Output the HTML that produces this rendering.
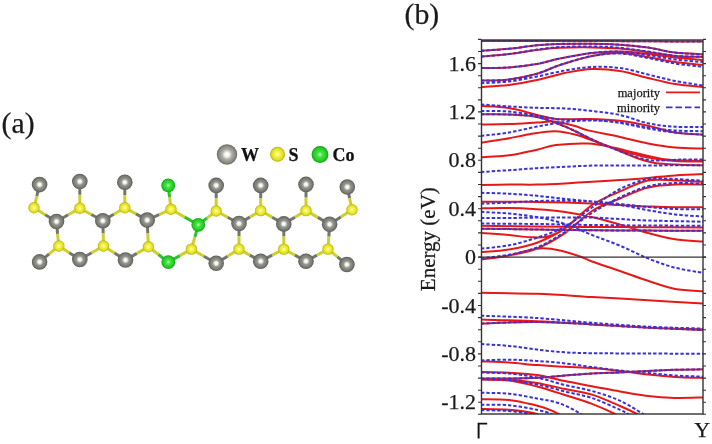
<!DOCTYPE html>
<html><head><meta charset="utf-8"><style>
html,body{margin:0;padding:0;background:#fff;}
svg{display:block;}
text{font-family:"Liberation Serif",serif;fill:#1a1a1a;stroke:#1a1a1a;stroke-width:0.25px;}
svg{will-change:transform;}
.tl{font-size:22px;}
.el{font-size:21px;}
.lg{font-size:12.5px;}
.ml{font-size:18px;font-weight:bold;fill:#111;}
.pl{font-size:29.7px;}
</style></head><body>
<svg width="712" height="444" viewBox="0 0 712 444">
<defs>
<clipPath id="pc"><rect x="481.5" y="40" width="221.5" height="374"/></clipPath>
<radialGradient id="gw" cx="0.5" cy="0.5" r="0.5"><stop offset="0" stop-color="#ffffff"/><stop offset="0.22" stop-color="#f6f6f0"/><stop offset="0.5" stop-color="#acaca4"/><stop offset="0.82" stop-color="#8a8a82"/><stop offset="1" stop-color="#686862"/></radialGradient>
<radialGradient id="gk" cx="0.5" cy="0.5" r="0.5"><stop offset="0" stop-color="#ffffff"/><stop offset="0.2" stop-color="#f2f2ee"/><stop offset="0.45" stop-color="#96968f"/><stop offset="0.78" stop-color="#7a7a74"/><stop offset="1" stop-color="#5c5c57"/></radialGradient>
<radialGradient id="gs" cx="0.5" cy="0.5" r="0.5"><stop offset="0" stop-color="#ffffc8"/><stop offset="0.3" stop-color="#f6f650"/><stop offset="0.75" stop-color="#e2de22"/><stop offset="1" stop-color="#b4b014"/></radialGradient>
<radialGradient id="gc" cx="0.5" cy="0.5" r="0.5"><stop offset="0" stop-color="#b8ffb8"/><stop offset="0.3" stop-color="#44e444"/><stop offset="0.75" stop-color="#26cc26"/><stop offset="1" stop-color="#169c16"/></radialGradient>
</defs>
<rect width="712" height="444" fill="#fff"/>
<text x="1.6" y="133.1" class="pl">(a)</text>
<text x="404.6" y="23.8" class="pl">(b)</text>
<g stroke-width="3" stroke-linecap="butt"><line x1="39.6" y1="184.6" x2="36.8" y2="196.2" stroke="#75756f"/><line x1="36.8" y1="196.2" x2="34.0" y2="207.8" stroke="#cfcf2a"/><line x1="34.0" y1="207.8" x2="45.2" y2="214.7" stroke="#cfcf2a"/><line x1="45.2" y1="214.7" x2="56.5" y2="221.5" stroke="#75756f"/><line x1="79.8" y1="181.5" x2="79.8" y2="194.8" stroke="#75756f"/><line x1="79.8" y1="194.8" x2="79.8" y2="208.2" stroke="#cfcf2a"/><line x1="79.8" y1="208.2" x2="68.2" y2="214.8" stroke="#cfcf2a"/><line x1="68.2" y1="214.8" x2="56.5" y2="221.5" stroke="#75756f"/><line x1="79.8" y1="208.2" x2="91.3" y2="214.5" stroke="#cfcf2a"/><line x1="91.3" y1="214.5" x2="102.8" y2="220.8" stroke="#75756f"/><line x1="124.8" y1="182.3" x2="124.8" y2="195.1" stroke="#75756f"/><line x1="124.8" y1="195.1" x2="124.8" y2="207.8" stroke="#cfcf2a"/><line x1="124.8" y1="207.8" x2="113.8" y2="214.3" stroke="#cfcf2a"/><line x1="113.8" y1="214.3" x2="102.8" y2="220.8" stroke="#75756f"/><line x1="124.8" y1="207.8" x2="136.0" y2="213.9" stroke="#cfcf2a"/><line x1="136.0" y1="213.9" x2="147.2" y2="220.1" stroke="#75756f"/><line x1="168.2" y1="185.4" x2="169.6" y2="197.4" stroke="#2cc42c"/><line x1="169.6" y1="197.4" x2="171.0" y2="209.3" stroke="#cfcf2a"/><line x1="171.0" y1="209.3" x2="159.1" y2="214.7" stroke="#cfcf2a"/><line x1="159.1" y1="214.7" x2="147.2" y2="220.1" stroke="#75756f"/><line x1="171.0" y1="209.3" x2="184.7" y2="217.1" stroke="#cfcf2a"/><line x1="184.7" y1="217.1" x2="198.3" y2="224.8" stroke="#2cc42c"/><line x1="198.3" y1="224.8" x2="207.2" y2="217.9" stroke="#2cc42c"/><line x1="207.2" y1="217.9" x2="216.2" y2="211.0" stroke="#cfcf2a"/><line x1="216.2" y1="185.4" x2="216.2" y2="198.2" stroke="#75756f"/><line x1="216.2" y1="198.2" x2="216.2" y2="211.0" stroke="#cfcf2a"/><line x1="216.2" y1="211.0" x2="227.6" y2="217.2" stroke="#cfcf2a"/><line x1="227.6" y1="217.2" x2="239.0" y2="223.5" stroke="#75756f"/><line x1="260.7" y1="185.4" x2="260.7" y2="198.0" stroke="#75756f"/><line x1="260.7" y1="198.0" x2="260.7" y2="210.6" stroke="#cfcf2a"/><line x1="260.7" y1="210.6" x2="249.8" y2="217.1" stroke="#cfcf2a"/><line x1="249.8" y1="217.1" x2="239.0" y2="223.5" stroke="#75756f"/><line x1="260.7" y1="210.6" x2="272.2" y2="217.2" stroke="#cfcf2a"/><line x1="272.2" y1="217.2" x2="283.8" y2="223.9" stroke="#75756f"/><line x1="306.0" y1="184.4" x2="306.0" y2="197.5" stroke="#75756f"/><line x1="306.0" y1="197.5" x2="306.0" y2="210.6" stroke="#cfcf2a"/><line x1="306.0" y1="210.6" x2="294.9" y2="217.2" stroke="#cfcf2a"/><line x1="294.9" y1="217.2" x2="283.8" y2="223.9" stroke="#75756f"/><line x1="306.0" y1="210.6" x2="317.8" y2="217.4" stroke="#cfcf2a"/><line x1="317.8" y1="217.4" x2="329.6" y2="224.3" stroke="#75756f"/><line x1="347.3" y1="187.0" x2="349.6" y2="198.3" stroke="#75756f"/><line x1="349.6" y1="198.3" x2="352.0" y2="209.7" stroke="#cfcf2a"/><line x1="352.0" y1="209.7" x2="340.8" y2="217.0" stroke="#cfcf2a"/><line x1="340.8" y1="217.0" x2="329.6" y2="224.3" stroke="#75756f"/><line x1="56.5" y1="221.5" x2="57.6" y2="233.8" stroke="#75756f"/><line x1="57.6" y1="233.8" x2="58.8" y2="246.0" stroke="#cfcf2a"/><line x1="102.8" y1="220.8" x2="103.2" y2="233.4" stroke="#75756f"/><line x1="103.2" y1="233.4" x2="103.5" y2="246.0" stroke="#cfcf2a"/><line x1="147.2" y1="220.1" x2="147.8" y2="233.4" stroke="#75756f"/><line x1="147.8" y1="233.4" x2="148.4" y2="246.8" stroke="#cfcf2a"/><line x1="198.3" y1="224.8" x2="194.9" y2="236.9" stroke="#2cc42c"/><line x1="194.9" y1="236.9" x2="191.4" y2="249.1" stroke="#cfcf2a"/><line x1="239.0" y1="223.5" x2="239.0" y2="236.3" stroke="#75756f"/><line x1="239.0" y1="236.3" x2="239.0" y2="249.1" stroke="#cfcf2a"/><line x1="283.8" y1="223.9" x2="283.8" y2="236.5" stroke="#75756f"/><line x1="283.8" y1="236.5" x2="283.8" y2="249.1" stroke="#cfcf2a"/><line x1="329.6" y1="224.3" x2="328.8" y2="236.7" stroke="#75756f"/><line x1="328.8" y1="236.7" x2="328.0" y2="249.1" stroke="#cfcf2a"/><line x1="39.6" y1="261.9" x2="49.2" y2="253.9" stroke="#75756f"/><line x1="49.2" y1="253.9" x2="58.8" y2="246.0" stroke="#cfcf2a"/><line x1="58.8" y1="246.0" x2="69.3" y2="252.8" stroke="#cfcf2a"/><line x1="69.3" y1="252.8" x2="79.8" y2="259.5" stroke="#75756f"/><line x1="79.8" y1="259.5" x2="91.7" y2="252.8" stroke="#75756f"/><line x1="91.7" y1="252.8" x2="103.5" y2="246.0" stroke="#cfcf2a"/><line x1="103.5" y1="246.0" x2="114.5" y2="253.0" stroke="#cfcf2a"/><line x1="114.5" y1="253.0" x2="125.5" y2="260.0" stroke="#75756f"/><line x1="125.5" y1="260.0" x2="136.9" y2="253.4" stroke="#75756f"/><line x1="136.9" y1="253.4" x2="148.4" y2="246.8" stroke="#cfcf2a"/><line x1="148.4" y1="246.8" x2="158.4" y2="254.5" stroke="#cfcf2a"/><line x1="158.4" y1="254.5" x2="168.3" y2="262.1" stroke="#2cc42c"/><line x1="168.3" y1="262.1" x2="179.9" y2="255.6" stroke="#2cc42c"/><line x1="179.9" y1="255.6" x2="191.4" y2="249.1" stroke="#cfcf2a"/><line x1="191.4" y1="249.1" x2="203.8" y2="256.2" stroke="#cfcf2a"/><line x1="203.8" y1="256.2" x2="216.2" y2="263.3" stroke="#75756f"/><line x1="216.2" y1="263.3" x2="227.6" y2="256.2" stroke="#75756f"/><line x1="227.6" y1="256.2" x2="239.0" y2="249.1" stroke="#cfcf2a"/><line x1="239.0" y1="249.1" x2="249.8" y2="255.1" stroke="#cfcf2a"/><line x1="249.8" y1="255.1" x2="260.7" y2="261.2" stroke="#75756f"/><line x1="260.7" y1="261.2" x2="272.2" y2="255.1" stroke="#75756f"/><line x1="272.2" y1="255.1" x2="283.8" y2="249.1" stroke="#cfcf2a"/><line x1="283.8" y1="249.1" x2="294.9" y2="255.1" stroke="#cfcf2a"/><line x1="294.9" y1="255.1" x2="306.0" y2="261.2" stroke="#75756f"/><line x1="306.0" y1="261.2" x2="317.0" y2="255.1" stroke="#75756f"/><line x1="317.0" y1="255.1" x2="328.0" y2="249.1" stroke="#cfcf2a"/><line x1="328.0" y1="249.1" x2="337.4" y2="256.8" stroke="#cfcf2a"/><line x1="337.4" y1="256.8" x2="346.9" y2="264.5" stroke="#75756f"/></g><circle cx="39.6" cy="184.6" r="7.8" fill="url(#gk)"/><circle cx="79.8" cy="181.5" r="7.8" fill="url(#gk)"/><circle cx="124.8" cy="182.3" r="7.8" fill="url(#gk)"/><circle cx="168.2" cy="185.4" r="6.9" fill="url(#gc)"/><circle cx="216.2" cy="185.4" r="7.8" fill="url(#gk)"/><circle cx="260.7" cy="185.4" r="7.8" fill="url(#gk)"/><circle cx="306.0" cy="184.4" r="7.8" fill="url(#gk)"/><circle cx="347.3" cy="187.0" r="7.8" fill="url(#gk)"/><circle cx="34.0" cy="207.8" r="5.7" fill="url(#gs)"/><circle cx="79.8" cy="208.2" r="5.7" fill="url(#gs)"/><circle cx="124.8" cy="207.8" r="5.7" fill="url(#gs)"/><circle cx="171.0" cy="209.3" r="5.7" fill="url(#gs)"/><circle cx="216.2" cy="211.0" r="5.7" fill="url(#gs)"/><circle cx="260.7" cy="210.6" r="5.7" fill="url(#gs)"/><circle cx="306.0" cy="210.6" r="5.7" fill="url(#gs)"/><circle cx="352.0" cy="209.7" r="5.7" fill="url(#gs)"/><circle cx="56.5" cy="221.5" r="7.8" fill="url(#gk)"/><circle cx="102.8" cy="220.8" r="7.8" fill="url(#gk)"/><circle cx="147.2" cy="220.1" r="7.8" fill="url(#gk)"/><circle cx="198.3" cy="224.8" r="6.9" fill="url(#gc)"/><circle cx="239.0" cy="223.5" r="7.8" fill="url(#gk)"/><circle cx="283.8" cy="223.9" r="7.8" fill="url(#gk)"/><circle cx="329.6" cy="224.3" r="7.8" fill="url(#gk)"/><circle cx="58.8" cy="246.0" r="5.7" fill="url(#gs)"/><circle cx="103.5" cy="246.0" r="5.7" fill="url(#gs)"/><circle cx="148.4" cy="246.8" r="5.7" fill="url(#gs)"/><circle cx="191.4" cy="249.1" r="5.7" fill="url(#gs)"/><circle cx="239.0" cy="249.1" r="5.7" fill="url(#gs)"/><circle cx="283.8" cy="249.1" r="5.7" fill="url(#gs)"/><circle cx="328.0" cy="249.1" r="5.7" fill="url(#gs)"/><circle cx="39.6" cy="261.9" r="7.8" fill="url(#gk)"/><circle cx="79.8" cy="259.5" r="7.8" fill="url(#gk)"/><circle cx="125.5" cy="260.0" r="7.8" fill="url(#gk)"/><circle cx="168.3" cy="262.1" r="6.9" fill="url(#gc)"/><circle cx="216.2" cy="263.3" r="7.8" fill="url(#gk)"/><circle cx="260.7" cy="261.2" r="7.8" fill="url(#gk)"/><circle cx="306.0" cy="261.2" r="7.8" fill="url(#gk)"/><circle cx="346.9" cy="264.5" r="7.8" fill="url(#gk)"/><circle cx="227" cy="154.5" r="10.2" fill="url(#gw)"/><circle cx="277.5" cy="154.2" r="7.5" fill="url(#gs)"/><circle cx="320" cy="154.5" r="8.4" fill="url(#gc)"/><text x="241" y="160.5" class="ml">W</text><text x="288.5" y="160.5" class="ml">S</text><text x="332.5" y="160.5" class="ml">Co</text>
<g clip-path="url(#pc)" fill="none"><path d="M481.0 40.9 C490.8 40.9 520.2 40.9 540.0 40.9 C559.8 40.9 581.7 40.9 600.0 41.0 C618.3 41.1 632.8 41.2 650.0 41.3 C667.2 41.4 694.2 41.5 703.0 41.6 M481.0 50.7 C485.7 50.4 499.7 49.7 509.0 48.8 C518.3 47.9 528.5 46.0 537.0 45.2 C545.5 44.4 550.8 44.1 560.0 43.9 C569.2 43.7 582.0 43.6 592.0 43.8 C602.0 43.9 610.7 44.2 620.0 44.8 C629.3 45.4 638.8 46.3 648.0 47.6 C657.2 48.9 665.8 51.5 675.0 52.6 C684.2 53.7 698.3 54.0 703.0 54.3 M481.0 56.6 C485.7 56.2 499.7 55.2 509.0 54.1 C518.3 53.0 528.5 51.0 537.0 50.0 C545.5 49.0 550.8 48.2 560.0 47.8 C569.2 47.4 582.0 47.3 592.0 47.4 C602.0 47.5 610.7 47.6 620.0 48.4 C629.3 49.2 638.8 50.7 648.0 52.0 C657.2 53.3 665.8 55.2 675.0 56.0 C684.2 56.8 698.3 56.8 703.0 57.0 M481.0 68.1 C485.7 68.0 499.7 68.1 509.0 67.4 C518.3 66.7 528.5 65.4 537.0 63.9 C545.5 62.4 550.8 60.3 560.0 58.5 C569.2 56.7 582.0 54.2 592.0 53.0 C602.0 51.8 610.7 51.3 620.0 51.5 C629.3 51.7 638.8 53.0 648.0 54.0 C657.2 55.0 665.8 56.5 675.0 57.5 C684.2 58.5 698.3 59.6 703.0 60.0 M481.0 80.6 C485.7 80.4 499.7 80.7 509.0 79.5 C518.3 78.3 528.5 76.1 537.0 73.7 C545.5 71.3 550.8 68.0 560.0 65.0 C569.2 62.0 582.0 58.0 592.0 56.0 C602.0 54.0 610.7 52.8 620.0 53.0 C629.3 53.2 638.8 55.5 648.0 57.0 C657.2 58.5 665.8 60.7 675.0 62.0 C684.2 63.3 698.3 64.5 703.0 65.0 M481.0 86.9 C485.7 86.6 499.7 86.2 509.0 85.0 C518.3 83.8 527.7 82.0 537.0 80.0 C546.3 78.0 555.8 74.8 565.0 73.0 C574.2 71.2 582.8 69.3 592.0 69.0 C601.2 68.7 610.7 69.5 620.0 71.0 C629.3 72.5 638.8 75.8 648.0 78.0 C657.2 80.2 665.8 82.5 675.0 84.0 C684.2 85.5 698.3 86.4 703.0 86.9 M481.0 106.1 C485.7 106.4 499.7 106.6 509.0 108.1 C518.3 109.6 529.2 113.1 537.0 114.9 C544.8 116.7 547.5 118.3 556.0 119.0 C564.5 119.7 577.3 118.8 588.0 119.1 C598.7 119.4 610.0 119.7 620.0 120.8 C630.0 121.9 638.8 123.8 648.0 125.8 C657.2 127.8 665.8 131.1 675.0 132.6 C684.2 134.1 698.3 134.3 703.0 134.7 M481.0 114.3 C485.7 114.3 499.7 114.0 509.0 114.5 C518.3 115.0 527.7 115.0 537.0 117.0 C546.3 119.0 555.8 122.8 565.0 126.5 C574.2 130.2 584.0 135.8 592.0 139.5 C600.0 143.2 605.3 145.2 613.0 148.4 C620.7 151.6 631.0 156.1 638.0 158.5 C645.0 160.9 648.0 161.9 655.0 163.0 C662.0 164.1 672.0 164.4 680.0 164.8 C688.0 165.2 699.2 165.2 703.0 165.3 M481.0 124.6 C485.7 124.5 499.7 124.3 509.0 124.0 C518.3 123.7 529.5 122.9 537.0 122.5 C544.5 122.1 547.7 121.0 554.0 121.6 C560.3 122.2 569.3 124.5 575.0 126.0 C580.7 127.5 580.5 128.6 588.0 130.4 C595.5 132.2 610.0 134.8 620.0 137.0 C630.0 139.2 638.8 141.8 648.0 143.5 C657.2 145.2 665.8 146.7 675.0 147.5 C684.2 148.3 698.3 148.4 703.0 148.6 M481.0 142.7 C485.0 142.1 496.5 140.6 505.0 139.1 C513.5 137.6 523.7 135.0 532.0 133.7 C540.3 132.4 547.7 131.0 555.0 131.2 C562.3 131.4 568.8 132.9 576.0 134.8 C583.2 136.7 590.7 140.0 598.0 142.5 C605.3 145.0 611.7 147.5 620.0 150.0 C628.3 152.5 638.8 155.7 648.0 157.5 C657.2 159.3 665.8 160.3 675.0 161.0 C684.2 161.7 698.3 161.4 703.0 161.5 M481.0 157.3 C485.7 157.0 499.7 156.6 509.0 155.3 C518.3 154.0 529.2 151.4 537.0 149.7 C544.8 148.0 547.5 146.1 556.0 145.1 C564.5 144.1 578.5 143.2 588.0 143.6 C597.5 144.0 604.7 145.9 613.0 147.6 C621.3 149.2 629.0 151.5 638.0 153.5 C647.0 155.5 656.2 158.2 667.0 159.4 C677.8 160.7 697.0 160.7 703.0 161.0 M481.0 184.9 C485.7 184.8 499.7 184.7 509.0 184.6 C518.3 184.5 527.7 184.8 537.0 184.6 C546.3 184.4 555.8 183.9 565.0 183.4 C574.2 182.9 582.8 182.2 592.0 181.7 C601.2 181.1 610.7 180.7 620.0 180.1 C629.3 179.5 638.8 178.7 648.0 177.9 C657.2 177.1 665.8 176.1 675.0 175.4 C684.2 174.8 698.3 174.2 703.0 174.0 M481.0 201.8 C485.7 201.8 499.7 201.8 509.0 201.8 C518.3 201.8 527.7 201.9 537.0 202.0 C546.3 202.1 555.8 202.2 565.0 202.4 C574.2 202.7 582.8 203.1 592.0 203.5 C601.2 203.9 610.7 204.6 620.0 205.1 C629.3 205.6 638.8 206.2 648.0 206.5 C657.2 206.8 665.8 207.1 675.0 207.2 C684.2 207.3 698.3 207.2 703.0 207.2 M481.0 208.4 C485.7 208.3 499.7 207.9 509.0 208.1 C518.3 208.2 527.7 208.7 537.0 209.3 C546.3 209.9 555.8 210.6 565.0 211.9 C574.2 213.2 582.8 214.9 592.0 217.0 C601.2 219.1 610.7 221.9 620.0 224.6 C629.3 227.3 638.8 230.6 648.0 233.0 C657.2 235.4 665.8 237.9 675.0 239.3 C684.2 240.7 698.3 241.1 703.0 241.5 M481.0 225.7 C490.3 225.8 518.5 226.3 537.0 226.5 C555.5 226.7 573.5 226.9 592.0 227.0 C610.5 227.1 629.5 227.1 648.0 227.2 C666.5 227.3 693.8 227.4 703.0 227.4 M481.0 228.7 C490.3 228.8 518.5 229.2 537.0 229.5 C555.5 229.8 573.5 230.1 592.0 230.3 C610.5 230.5 629.5 230.5 648.0 230.6 C666.5 230.7 693.8 230.8 703.0 230.8 M481.0 233.1 C485.7 233.4 500.8 234.4 509.0 235.1 C517.2 235.8 523.5 237.0 530.0 237.2 C536.5 237.4 542.2 238.0 548.0 236.5 C553.8 235.0 557.7 233.7 565.0 228.4 C572.3 223.2 582.8 211.2 592.0 205.0 C601.2 198.8 610.7 195.5 620.0 191.4 C629.3 187.3 638.8 182.2 648.0 180.4 C657.2 178.6 665.8 180.2 675.0 180.4 C684.2 180.6 698.3 181.6 703.0 181.8 M481.0 252.0 C485.7 251.6 499.7 251.1 509.0 249.5 C518.3 247.9 527.7 246.2 537.0 242.7 C546.3 239.2 555.8 234.7 565.0 228.4 C574.2 222.1 582.8 211.2 592.0 205.0 C601.2 198.8 610.7 195.5 620.0 191.4 C629.3 187.3 638.8 182.2 648.0 180.4 C657.2 178.6 665.8 180.2 675.0 180.4 C684.2 180.6 698.3 181.6 703.0 181.8 M481.0 259.6 C485.7 258.9 499.7 257.4 509.0 255.5 C518.3 253.7 527.7 252.2 537.0 248.5 C546.3 244.8 555.8 239.4 565.0 233.2 C574.2 226.9 582.8 216.8 592.0 211.0 C601.2 205.2 610.7 202.4 620.0 198.5 C629.3 194.6 638.8 189.8 648.0 187.5 C657.2 185.2 665.8 185.0 675.0 184.5 C684.2 184.0 698.3 184.6 703.0 184.6 M481.0 259.5 C485.7 258.8 501.2 257.0 509.0 255.5 C516.8 254.0 522.3 251.7 528.0 250.5 C533.7 249.3 537.7 248.3 543.0 248.3 C548.3 248.3 553.8 249.1 560.0 250.5 C566.2 251.9 574.7 254.7 580.0 256.5 C585.3 258.3 585.3 259.1 592.0 261.5 C598.7 263.9 610.7 267.8 620.0 271.0 C629.3 274.2 638.8 277.8 648.0 280.8 C657.2 283.8 665.8 287.2 675.0 288.9 C684.2 290.6 698.3 290.8 703.0 291.2 M481.0 292.8 C490.3 293.0 518.5 293.1 537.0 293.8 C555.5 294.5 573.5 295.9 592.0 297.0 C610.5 298.1 629.5 299.1 648.0 300.2 C666.5 301.3 693.8 302.9 703.0 303.4 M481.0 319.6 C490.3 319.9 518.5 320.4 537.0 321.2 C555.5 322.0 573.5 323.3 592.0 324.4 C610.5 325.5 629.5 326.9 648.0 327.7 C666.5 328.5 693.8 329.0 703.0 329.3 M481.0 323.5 C490.3 323.2 518.5 321.8 537.0 321.9 C555.5 322.0 573.5 323.4 592.0 324.4 C610.5 325.4 629.5 326.8 648.0 327.7 C666.5 328.6 693.8 329.6 703.0 330.0 M481.0 361.4 C485.7 361.6 499.7 362.0 509.0 362.6 C518.3 363.2 527.7 364.4 537.0 365.1 C546.3 365.8 555.8 366.3 565.0 366.8 C574.2 367.3 582.8 367.4 592.0 368.1 C601.2 368.8 610.7 369.9 620.0 371.0 C629.3 372.1 638.8 373.5 648.0 374.5 C657.2 375.5 665.8 376.4 675.0 377.0 C684.2 377.6 698.3 377.8 703.0 377.9 M481.0 378.6 C485.7 378.6 499.7 378.6 509.0 378.5 C518.3 378.4 527.7 378.3 537.0 377.8 C546.3 377.3 555.8 376.2 565.0 375.5 C574.2 374.8 582.8 374.0 592.0 373.5 C601.2 373.0 610.7 372.8 620.0 372.4 C629.3 372.0 638.8 371.4 648.0 371.0 C657.2 370.6 665.8 370.1 675.0 369.8 C684.2 369.5 698.3 369.4 703.0 369.3 M481.0 372.0 C485.7 372.1 499.7 372.3 509.0 372.8 C518.3 373.3 527.7 373.6 537.0 375.0 C546.3 376.4 555.8 379.1 565.0 381.0 C574.2 382.9 582.8 384.4 592.0 386.2 C601.2 387.9 610.7 389.9 620.0 391.5 C629.3 393.1 638.8 395.0 648.0 396.1 C657.2 397.2 665.8 397.7 675.0 397.9 C684.2 398.1 698.3 397.5 703.0 397.4 M481.0 379.0 C485.7 379.1 499.7 378.8 509.0 379.5 C518.3 380.2 527.7 381.4 537.0 383.0 C546.3 384.6 555.8 387.1 565.0 389.0 C574.2 390.9 582.8 391.8 592.0 394.6 C601.2 397.4 612.5 402.8 620.0 406.0 C627.5 409.2 633.3 412.0 637.0 414.0 C640.7 416.0 641.2 417.3 642.0 418.0 M481.0 379.6 C485.7 379.8 499.7 379.4 509.0 380.5 C518.3 381.6 527.7 384.1 537.0 386.5 C546.3 388.9 555.8 392.1 565.0 395.0 C574.2 397.9 583.7 400.7 592.0 403.9 C600.3 407.1 610.3 411.6 615.0 414.0 C619.7 416.4 619.2 417.3 620.0 418.0 M481.0 399.2 C485.7 399.3 501.0 399.2 509.0 400.0 C517.0 400.8 523.0 402.5 529.0 403.8 C535.0 405.1 539.8 406.2 545.0 408.0 C550.2 409.8 556.7 412.9 560.0 414.6 C563.3 416.3 564.2 417.4 565.0 418.0 M481.0 408.9 C485.7 409.0 499.8 409.0 509.0 409.8 C518.2 410.6 530.8 412.4 536.0 413.8 C541.2 415.2 539.3 417.3 540.0 418.0" stroke="#e61919" stroke-width="2"/><path d="M481.0 40.9 C490.8 40.9 520.2 40.9 540.0 40.9 C559.8 40.9 581.7 40.9 600.0 41.0 C618.3 41.1 632.8 41.2 650.0 41.3 C667.2 41.4 694.2 41.5 703.0 41.6 M481.0 50.7 C485.7 50.4 499.7 49.7 509.0 48.8 C518.3 47.9 528.5 46.0 537.0 45.2 C545.5 44.4 550.8 44.1 560.0 43.9 C569.2 43.7 582.0 43.6 592.0 43.8 C602.0 43.9 610.7 44.2 620.0 44.8 C629.3 45.4 638.8 46.3 648.0 47.6 C657.2 48.9 665.8 51.5 675.0 52.6 C684.2 53.7 698.3 54.0 703.0 54.3 M481.0 56.6 C485.7 56.2 499.7 55.3 509.0 54.1 C518.3 52.9 528.5 50.8 537.0 49.6 C545.5 48.4 550.8 47.5 560.0 47.0 C569.2 46.5 582.0 46.4 592.0 46.5 C602.0 46.6 610.7 46.9 620.0 47.8 C629.3 48.6 638.8 50.3 648.0 51.6 C657.2 52.9 665.8 54.9 675.0 55.8 C684.2 56.7 698.3 56.6 703.0 56.8 M481.0 68.1 C485.7 68.0 499.7 68.1 509.0 67.4 C518.3 66.7 528.5 65.4 537.0 63.9 C545.5 62.4 550.8 60.3 560.0 58.5 C569.2 56.7 582.0 54.2 592.0 53.0 C602.0 51.8 610.7 51.2 620.0 51.5 C629.3 51.8 638.8 53.7 648.0 55.0 C657.2 56.3 665.8 58.3 675.0 59.5 C684.2 60.7 698.3 61.6 703.0 62.0 M481.0 80.6 C485.7 80.4 499.7 80.7 509.0 79.5 C518.3 78.3 528.5 76.1 537.0 73.7 C545.5 71.3 550.8 68.0 560.0 65.0 C569.2 62.0 582.0 57.9 592.0 56.0 C602.0 54.1 610.7 53.2 620.0 53.5 C629.3 53.8 638.8 56.3 648.0 58.0 C657.2 59.7 665.8 62.0 675.0 63.5 C684.2 65.0 698.3 66.2 703.0 66.8 M481.0 83.2 C485.7 82.9 499.7 82.6 509.0 81.5 C518.3 80.4 527.7 78.3 537.0 76.5 C546.3 74.7 555.8 72.1 565.0 70.5 C574.2 68.9 582.8 67.4 592.0 67.0 C601.2 66.6 610.7 66.8 620.0 68.0 C629.3 69.2 638.8 72.3 648.0 74.5 C657.2 76.7 665.8 79.2 675.0 81.0 C684.2 82.8 698.3 84.8 703.0 85.5 M481.0 104.4 C485.7 104.7 499.7 105.8 509.0 106.4 C518.3 107.0 527.7 107.5 537.0 107.8 C546.3 108.1 555.8 108.0 565.0 108.5 C574.2 109.0 582.8 109.9 592.0 111.0 C601.2 112.1 610.7 113.0 620.0 115.0 C629.3 117.0 638.8 121.3 648.0 123.3 C657.2 125.2 665.8 126.1 675.0 126.7 C684.2 127.3 698.3 127.0 703.0 127.0 M481.0 111.1 C485.7 111.2 499.7 110.7 509.0 111.5 C518.3 112.3 528.5 114.4 537.0 115.7 C545.5 117.0 550.8 118.8 560.0 119.5 C569.2 120.2 582.0 119.4 592.0 120.0 C602.0 120.6 610.7 121.6 620.0 123.0 C629.3 124.4 638.8 126.9 648.0 128.5 C657.2 130.1 665.8 131.5 675.0 132.5 C684.2 133.5 698.3 134.3 703.0 134.7 M481.0 114.3 C485.7 114.3 499.7 114.0 509.0 114.5 C518.3 115.0 527.7 115.0 537.0 117.0 C546.3 119.0 555.8 122.8 565.0 126.5 C574.2 130.2 584.0 135.8 592.0 139.5 C600.0 143.2 605.3 145.4 613.0 148.4 C620.7 151.4 631.0 155.5 638.0 157.5 C645.0 159.5 648.0 160.2 655.0 160.5 C662.0 160.8 672.0 159.8 680.0 159.6 C688.0 159.4 699.2 159.4 703.0 159.4 M481.0 135.9 C485.7 135.3 499.7 134.1 509.0 132.5 C518.3 130.9 527.7 128.3 537.0 126.6 C546.3 124.8 555.8 123.0 565.0 122.0 C574.2 121.0 582.8 120.4 592.0 120.5 C601.2 120.6 610.7 121.2 620.0 122.4 C629.3 123.6 638.8 126.2 648.0 127.5 C657.2 128.8 665.8 129.9 675.0 130.5 C684.2 131.1 698.3 131.1 703.0 131.2 M481.0 172.0 C485.7 171.7 499.7 170.8 509.0 170.2 C518.3 169.6 527.7 168.8 537.0 168.2 C546.3 167.6 555.8 167.2 565.0 166.8 C574.2 166.4 582.8 165.8 592.0 165.6 C601.2 165.4 610.7 165.5 620.0 165.5 C629.3 165.5 638.8 165.5 648.0 165.5 C657.2 165.5 665.8 165.3 675.0 165.3 C684.2 165.3 698.3 165.3 703.0 165.3 M481.0 192.8 C485.7 193.0 499.7 193.2 509.0 193.7 C518.3 194.2 527.7 194.9 537.0 195.8 C546.3 196.7 555.8 198.0 565.0 198.9 C574.2 199.8 582.8 200.5 592.0 201.5 C601.2 202.5 610.7 203.6 620.0 205.0 C629.3 206.4 638.8 208.6 648.0 210.2 C657.2 211.8 665.8 213.3 675.0 214.4 C684.2 215.5 698.3 216.2 703.0 216.6 M481.0 203.7 C485.7 203.5 499.7 203.1 509.0 202.7 C518.3 202.2 527.7 201.3 537.0 201.0 C546.3 200.7 555.8 200.7 565.0 200.8 C574.2 200.9 582.8 201.0 592.0 201.5 C601.2 202.0 610.7 203.1 620.0 204.0 C629.3 204.9 638.8 206.2 648.0 207.0 C657.2 207.8 665.8 208.6 675.0 209.0 C684.2 209.4 698.3 209.3 703.0 209.4 M481.0 211.9 C485.7 212.2 499.7 212.7 509.0 213.6 C518.3 214.5 527.7 215.4 537.0 217.1 C546.3 218.8 555.8 221.0 565.0 224.0 C574.2 227.0 582.8 231.4 592.0 235.0 C601.2 238.6 610.7 241.8 620.0 245.7 C629.3 249.6 638.8 254.7 648.0 258.4 C657.2 262.1 665.8 265.3 675.0 267.7 C684.2 270.1 698.3 271.9 703.0 272.8 M481.0 218.0 C485.7 218.0 499.7 218.1 509.0 218.0 C518.3 217.9 527.7 217.7 537.0 217.6 C546.3 217.5 555.8 217.6 565.0 217.6 C574.2 217.6 582.8 217.4 592.0 217.6 C601.2 217.8 610.7 218.5 620.0 219.0 C629.3 219.5 634.2 220.1 648.0 220.5 C661.8 220.9 693.8 221.5 703.0 221.7 M481.0 223.5 C490.3 223.6 518.5 223.8 537.0 224.0 C555.5 224.2 573.5 224.8 592.0 225.0 C610.5 225.2 629.5 225.4 648.0 225.5 C666.5 225.6 693.8 225.8 703.0 225.8 M481.0 228.7 C490.3 228.8 518.5 229.2 537.0 229.5 C555.5 229.8 573.5 230.1 592.0 230.3 C610.5 230.5 629.5 230.5 648.0 230.6 C666.5 230.7 693.8 230.8 703.0 230.8 M481.0 248.7 C485.7 248.1 499.7 247.1 509.0 245.3 C518.3 243.5 527.7 240.8 537.0 237.7 C546.3 234.6 555.8 231.7 565.0 226.7 C574.2 221.7 582.8 213.8 592.0 207.5 C601.2 201.2 610.7 193.7 620.0 189.0 C629.3 184.3 638.8 180.8 648.0 179.1 C657.2 177.4 665.8 178.8 675.0 179.1 C684.2 179.4 698.3 180.5 703.0 180.8 M481.0 258.3 C485.7 257.7 499.7 256.5 509.0 254.7 C518.3 252.9 527.7 251.3 537.0 247.5 C546.3 243.7 555.8 237.8 565.0 232.0 C574.2 226.2 582.8 218.8 592.0 213.0 C601.2 207.2 610.7 201.8 620.0 197.3 C629.3 192.9 638.8 188.7 648.0 186.3 C657.2 183.9 665.8 183.4 675.0 183.0 C684.2 182.6 698.3 183.7 703.0 183.8 M481.0 315.7 C490.3 316.1 518.5 316.8 537.0 318.0 C555.5 319.2 573.5 321.4 592.0 322.8 C610.5 324.2 629.5 325.7 648.0 326.7 C666.5 327.7 693.8 328.3 703.0 328.6 M481.0 323.5 C490.3 323.2 518.5 321.8 537.0 321.9 C555.5 322.0 573.5 323.4 592.0 324.4 C610.5 325.4 629.5 326.8 648.0 327.7 C666.5 328.6 693.8 329.6 703.0 330.0 M481.0 344.1 C485.7 344.4 499.7 345.0 509.0 345.9 C518.3 346.8 527.7 348.5 537.0 349.6 C546.3 350.7 555.8 351.7 565.0 352.3 C574.2 352.9 578.2 353.0 592.0 353.2 C605.8 353.4 629.5 353.4 648.0 353.5 C666.5 353.6 693.8 353.8 703.0 353.8 M481.0 360.4 C485.7 360.3 499.7 359.6 509.0 359.7 C518.3 359.8 527.7 360.3 537.0 360.9 C546.3 361.5 555.8 362.4 565.0 363.4 C574.2 364.4 582.8 365.9 592.0 367.1 C601.2 368.3 610.7 369.5 620.0 370.5 C629.3 371.5 638.8 372.2 648.0 373.0 C657.2 373.8 665.8 374.9 675.0 375.5 C684.2 376.1 698.3 376.4 703.0 376.6 M481.0 378.6 C485.7 378.6 499.7 378.6 509.0 378.5 C518.3 378.4 527.7 378.3 537.0 377.8 C546.3 377.3 555.8 376.2 565.0 375.5 C574.2 374.8 582.8 374.0 592.0 373.5 C601.2 373.0 610.7 372.8 620.0 372.4 C629.3 372.0 638.8 371.4 648.0 371.0 C657.2 370.6 665.8 370.1 675.0 369.8 C684.2 369.5 698.3 369.4 703.0 369.3 M481.0 372.5 C485.7 372.7 499.7 372.7 509.0 373.5 C518.3 374.3 527.7 375.6 537.0 377.5 C546.3 379.4 555.8 382.8 565.0 385.0 C574.2 387.2 582.8 388.4 592.0 391.0 C601.2 393.6 611.5 396.9 620.0 400.7 C628.5 404.5 638.0 411.1 643.0 414.0 C648.0 416.9 648.8 417.3 650.0 418.0 M481.0 379.3 C485.7 379.4 499.7 379.1 509.0 380.0 C518.3 380.9 527.7 382.6 537.0 384.5 C546.3 386.4 555.8 389.2 565.0 391.5 C574.2 393.8 582.8 394.9 592.0 398.0 C601.2 401.1 614.0 407.1 620.0 409.8 C626.0 412.5 625.8 412.6 628.0 414.0 C630.2 415.4 632.2 417.3 633.0 418.0 M481.0 392.8 C485.7 392.9 499.7 392.8 509.0 393.7 C518.3 394.6 528.5 396.9 537.0 398.5 C545.5 400.1 552.8 401.0 560.0 403.5 C567.2 406.0 575.8 411.0 580.0 413.4 C584.2 415.8 584.2 417.2 585.0 418.0 M481.0 404.7 C485.7 404.8 499.7 404.3 509.0 405.2 C518.3 406.1 530.0 408.4 537.0 409.8 C544.0 411.2 547.8 412.4 551.0 413.8 C554.2 415.2 555.2 417.3 556.0 418.0 M481.0 410.1 C485.7 410.2 500.8 410.4 509.0 411.0 C517.2 411.6 525.7 412.8 530.0 414.0 C534.3 415.2 534.2 417.3 535.0 418.0" stroke="#3832d8" stroke-width="2" stroke-dasharray="3.4 2.0"/></g>
<line x1="478.5" y1="257.1" x2="706.0" y2="257.1" stroke="#333" stroke-width="1.1"/><path d="M478.0 414.3H481.5 M703.0 414.3H706.0 M478.0 402.3H481.5 M703.0 402.3H706.0 M478.0 390.2H481.5 M703.0 390.2H706.0 M478.0 378.1H481.5 M703.0 378.1H706.0 M478.0 366.0H481.5 M703.0 366.0H706.0 M478.0 353.9H481.5 M703.0 353.9H706.0 M478.0 341.8H481.5 M703.0 341.8H706.0 M478.0 329.7H481.5 M703.0 329.7H706.0 M478.0 317.6H481.5 M703.0 317.6H706.0 M478.0 305.5H481.5 M703.0 305.5H706.0 M478.0 293.4H481.5 M703.0 293.4H706.0 M478.0 281.3H481.5 M703.0 281.3H706.0 M478.0 269.2H481.5 M703.0 269.2H706.0 M478.0 257.1H481.5 M703.0 257.1H706.0 M478.0 245.0H481.5 M703.0 245.0H706.0 M478.0 232.9H481.5 M703.0 232.9H706.0 M478.0 220.8H481.5 M703.0 220.8H706.0 M478.0 208.7H481.5 M703.0 208.7H706.0 M478.0 196.6H481.5 M703.0 196.6H706.0 M478.0 184.5H481.5 M703.0 184.5H706.0 M478.0 172.4H481.5 M703.0 172.4H706.0 M478.0 160.3H481.5 M703.0 160.3H706.0 M478.0 148.2H481.5 M703.0 148.2H706.0 M478.0 136.1H481.5 M703.0 136.1H706.0 M478.0 124.0H481.5 M703.0 124.0H706.0 M478.0 111.9H481.5 M703.0 111.9H706.0 M478.0 99.9H481.5 M703.0 99.9H706.0 M478.0 87.8H481.5 M703.0 87.8H706.0 M478.0 75.7H481.5 M703.0 75.7H706.0 M478.0 63.6H481.5 M703.0 63.6H706.0 M478.0 51.5H481.5 M703.0 51.5H706.0 M478.0 39.4H481.5 M703.0 39.4H706.0" stroke="#333" stroke-width="1.1"/><rect x="481.5" y="40.0" width="221.5" height="374.0" fill="none" stroke="#333" stroke-width="1.4"/><text x="476" y="70.6" text-anchor="end" class="tl">1.6</text><text x="476" y="118.9" text-anchor="end" class="tl">1.2</text><text x="476" y="167.3" text-anchor="end" class="tl">0.8</text><text x="476" y="215.7" text-anchor="end" class="tl">0.4</text><text x="476" y="264.1" text-anchor="end" class="tl">0</text><text x="476" y="312.5" text-anchor="end" class="tl">-0.4</text><text x="476" y="360.9" text-anchor="end" class="tl">-0.8</text><text x="476" y="409.3" text-anchor="end" class="tl">-1.2</text><path d="M478.6 438.6V423.6H487.2" fill="none" stroke="#111" stroke-width="1.95"/><text x="702.3" y="437" text-anchor="middle" class="tl">Y</text><text transform="translate(434.5,239.2) rotate(-90)" text-anchor="middle" class="el">Energy (eV)</text><text x="660" y="97.4" text-anchor="end" class="lg">majority</text><text x="660" y="112.2" text-anchor="end" class="lg">minority</text><line x1="666" y1="92.4" x2="700" y2="92.4" stroke="#e61919" stroke-width="1.7"/><line x1="666" y1="107.4" x2="700" y2="107.4" stroke="#3832d8" stroke-width="1.7" stroke-dasharray="6.5 3"/>
</svg>
</body></html>
